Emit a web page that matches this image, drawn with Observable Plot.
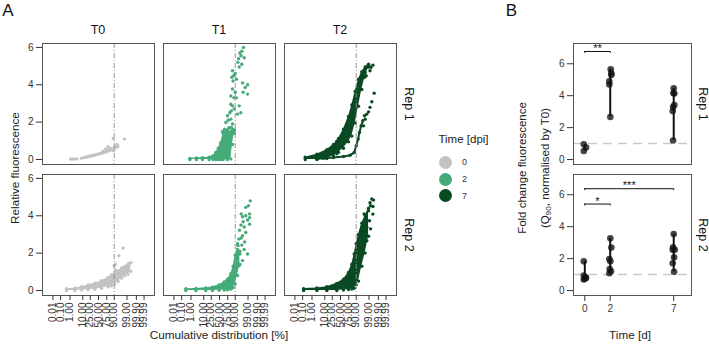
<!DOCTYPE html>
<html><head><meta charset="utf-8">
<script src="https://cdn.jsdelivr.net/npm/d3@7"></script>
<script src="https://cdn.jsdelivr.net/npm/@observablehq/plot@0.6"></script>
<style>
body{margin:0;background:#fff;}
#root{position:relative;width:709px;height:345px;font-family:"Liberation Sans",Arial,Helvetica,sans-serif;color:#222;overflow:hidden;background:#fff}
.lbl{position:absolute;white-space:nowrap;line-height:1}
.lbl sub{font-size:70%;vertical-align:-0.25em;line-height:0}
</style></head><body><div id="root"></div>
<script>
// ---------- DATA ----------
const columns = ["T0", "T1", "T2"];
const reps = ["Rep 1", "Rep 2"];
const legendTimes = ["0", "2", "7"];
const pctTicks = [0.01, 0.1, 1, 10, 25, 50, 75, 90, 99, 99.9, 99.99];
const pctLabels = ["0.01","0.10","1.00","10.00","25.00","50.00","75.00","90.00","99.00","99.90","99.99"];
const refPct = [90];
const yTicksA = [0, 2, 4, 6];

// [percentile, relative fluorescence]
const t0Rep1Dots = [[1.1,0.02],[1.6,0.03],[2.2,0.02],[3.6,0.03],[7.9,0.07],[11.5,0.1],[14,0.12],[16.4,0.13],[19,0.15],[22.4,0.17],[26,0.19],[29.5,0.2],[33,0.22],[37,0.23],[41,0.25],[45.6,0.27],[50,0.3],[54.4,0.3],[58,0.33],[61.8,0.34],[64,0.44],[66,0.37],[68.8,0.38],[72,0.55],[74.3,0.42],[77,0.45],[78,0.68],[79.4,0.47],[82,0.6],[83.6,0.5],[85,0.55],[87.3,0.56],[88.5,1.12],[89,0.48],[90.4,0.6],[91,0.7],[92.9,0.66],[93.6,0.8],[94.3,0.7],[98.3,1.09]];

// [percentile, low, high] dense band
const t1Rep1Band = [[0.78,0,0.06],[3,0,0.08],[8.2,0,0.1],[20,0,0.12],[30,0,0.2],[38,0,0.37],[46,0,0.6],[54,0,0.9],[62,0,1.4],[74,0,1.5],[82.3,0.03,1.5],[85.5,0.8,1.55],[88.5,1.4,1.55]];
const t1Rep1Dots = [[60,1.5],[66,1.62],[70,1.5],[74,1.58],[78,1.68],[83,1.72],[86,1.62],[88,1.55],[69.8,1.98],[74.3,2.34],[78.5,1.7],[82.3,2.16],[82.3,2.96],[82.3,3.4],[84.3,4.4],[85.5,1.9],[85.5,2.87],[85.5,3.77],[85.5,4.75],[87.9,4.5],[88.5,1.6],[88.5,2.7],[90,3.6],[90,4.6],[91.7,3.3],[91.7,4.3],[92.9,2.43],[93.3,5.2],[94.6,2.87],[94.6,4.95],[95.2,5.7],[95.9,2.5],[96.6,5.1],[96.6,5.8],[97.0,4.1],[97.3,3.6],[97.5,6.0],[97.8,5.45],[98.2,3.85],[98.9,3.5],[98.9,4.0],[86.5,4.2],[88,3.3],[80,2.5],[76,2.1],[83,2.6],[94,5.4],[96,5.55]];

const t2Rep1Band = [[0.2,0,0.12],[2.7,0,0.28],[13.2,0.05,0.52],[28.4,0.2,0.8],[38.2,0.3,0.98],[43.6,0.38,1.12],[59.7,0.6,1.62],[74.3,0.95,2.3],[82.3,1.25,2.92],[88.5,1.95,3.65],[92.9,2.85,4.3],[95.9,3.75,4.7],[97.8,4.45,4.95],[98.9,4.95,5.1]];
const t2Rep1Branch = [[2.7,0.03],[8.2,0.06],[28.4,0.1],[59.7,0.16],[78.5,0.23],[86.8,0.37],[90,0.73],[92.5,1.09],[93.9,1.45],[95.4,1.8],[96.6,2.07]];
const t2Rep1Dots = [[97.5,2.34],[97.0,1.8],[97.8,2.16],[98.4,2.43],[98.9,2.55],[99.2,2.79],[99.47,3.09],[99.7,3.55],[97.3,4.39],[97.8,4.66],[98.4,4.93],[98.9,5.05],[99.2,4.75],[99.35,4.93],[99.59,5.05],[98.2,4.48]];

const t0Rep2Band = [[0.45,0,0.09],[2.7,0,0.12],[8.2,0.02,0.2],[20,0.04,0.29],[38.2,0.07,0.39],[59.7,0.12,0.52],[78.5,0.2,0.7],[85.5,0.25,0.84],[90.8,0.34,0.95],[94.6,0.48,1.05],[97,0.66,1.2],[98.4,0.79,1.3],[99.2,0.87,1.41],[99.59,1.02,1.48]];
const t0Rep2Dots = [[90,1.32],[91.7,1.41],[95.2,1.86],[97.8,2.27],[99.3,1.45],[92,1.1]];

const t1Rep2Band = [[0.3,0,0.09],[2.7,0,0.11],[13.2,0,0.14],[28.4,0,0.18],[48.9,0.01,0.3],[64.8,0.02,0.45],[74.3,0.04,0.6],[82.3,0.07,0.9],[86.8,0.15,1.3],[90,0.35,1.9],[92.9,0.8,2.2],[95.2,1.4,2.1]];
const t1Rep2Dots = [[99.4,4.8],[99.1,4.54],[99.3,4.1],[98.4,4.0],[97,3.95],[98.9,3.77],[96,3.5],[97.8,3.4],[94.8,3.23],[98.4,3.1],[97,2.93],[94.3,2.75],[99.3,3.55],[92.9,2.5],[96.6,2.43],[97.8,2.2],[98.9,1.95],[95.2,1.95],[97,1.6],[94.6,1.32],[91.7,1.77],[98.4,4.45],[99.3,3.9],[97.3,3.68],[96.2,4.1],[98,2.6],[96,2.8],[93.5,2.4]];

const t2Rep2Band = [[0.13,0,0.1],[2.7,0,0.13],[13.2,0,0.2],[38.2,0,0.38],[59.7,0.02,0.6],[74.3,0.05,0.96],[82.3,0.08,1.4],[86.8,0.12,1.95],[90,0.3,2.5],[92.9,0.5,3.0],[95.9,1.3,3.6],[97.8,2.0,4.0],[98.9,2.9,4.4]];
const t2Rep2Dots = [[99.47,4.9],[99.65,4.84],[99.3,4.54],[98.9,4.27],[99.59,4.09],[98.2,3.9],[99.1,3.73],[97,3.55],[98.4,3.38],[99.3,3.3],[95.9,3.1],[97.8,2.93],[94.6,2.75],[98.4,2.66],[96.6,2.48],[92.9,2.2],[97.3,4.1],[95.9,3.38],[99.2,4.7],[99.6,4.5]];

// Panel B: [time (d), jitter, fold change]
const times = [0, 2, 7];
const yTicksB = [0, 2, 4, 6];
const rep1Fold = [[0,-0.08,0.96],[0,0.1,0.75],[0,-0.08,0.54],[2,0.04,5.65],[2,0.09,5.4],[2,0.09,5.3],[2,-0.07,4.9],[2,-0.07,4.7],[2,0.01,2.67],[7,0,4.46],[7,-0.03,4.17],[7,0.05,4.13],[7,0.05,3.42],[7,-0.05,3.29],[7,-0.08,3.04],[7,-0.05,1.19]];
const rep2Fold = [[0,-0.08,1.83],[0,-0.08,0.94],[0,0.05,0.83],[0,0,0.75],[0,-0.08,0.69],[0,0.1,0.79],[2,0.01,3.27],[2,0.09,2.69],[2,-0.07,1.98],[2,0.01,1.83],[2,-0.04,1.35],[2,0.06,1.21],[2,-0.07,1.08],[7,0,3.54],[7,-0.05,2.71],[7,0.08,2.56],[7,-0.08,2.56],[7,0.03,2.08],[7,-0.08,1.71],[7,0.03,1.17]];
const sigRep1 = [{from:0,to:2,y:6.77,label:"**"}];
const sigRep2 = [{from:0,to:2,y:5.42,label:"*"},{from:0,to:7,y:6.38,label:"***"}];
const baseline = [1];

const colors = ["#c3c3c3", "#45ab78", "#0a4a22"];

// ---------- HELPERS ----------
function qnorm(p){
  const a=[-3.969683028665376e+01,2.209460984245205e+02,-2.759285104469687e+02,1.383577518672690e+02,-3.066479806614716e+01,2.506628277459239e+00];
  const b=[-5.447609879822406e+01,1.615858368580409e+02,-1.556989798598866e+02,6.680131188771972e+01,-1.328068155288572e+01];
  const c=[-7.784894002430293e-03,-3.223964580411365e-01,-2.400758277161838e+00,-2.549732539343734e+00,4.374664141464968e+00,2.938163982698783e+00];
  const d=[7.784695709041462e-03,3.224671290700398e-01,2.445134137142996e+00,3.754408661907416e+00];
  const pl=0.02425, ph=1-pl; let q,r;
  if(p<pl){q=Math.sqrt(-2*Math.log(p));return (((((c[0]*q+c[1])*q+c[2])*q+c[3])*q+c[4])*q+c[5])/((((d[0]*q+d[1])*q+d[2])*q+d[3])*q+1);}
  if(p<=ph){q=p-0.5;r=q*q;return (((((a[0]*r+a[1])*r+a[2])*r+a[3])*r+a[4])*r+a[5])*q/(((((b[0]*r+b[1])*r+b[2])*r+b[3])*r+b[4])*r+1);}
  q=Math.sqrt(-2*Math.log(1-p));return -(((((c[0]*q+c[1])*q+c[2])*q+c[3])*q+c[4])*q+c[5])/((((d[0]*q+d[1])*q+d[2])*q+d[3])*q+1);
}
const zp = p => qnorm(p/100);
const zTicks = pctTicks.map(zp);

const root = document.getElementById("root");
const plotStyle = "font-family:'Liberation Sans',Arial,sans-serif;font-size:10px;color:#333;background:none;overflow:visible";
function place(el, left, top){ el.style.position="absolute"; el.style.left=left+"px"; el.style.top=top+"px"; root.appendChild(el); }
function label(html, cx, cy, size, rot, color){
  const d=document.createElement("div"); d.className="lbl"; d.innerHTML=html;
  d.style.left=cx+"px"; d.style.top=cy+"px"; d.style.fontSize=size+"px";
  if(color) d.style.color=color;
  d.style.transform="translate(-50%,-50%)"+(rot?` rotate(${rot}deg)`:"");
  root.appendChild(d); return d;
}

// ---------- PANEL A ----------
const X0=[42,163,284], Y0=[43,174], PW=112, PH=121;
const panels = [
  {col:0,row:0,dots:t0Rep1Dots},
  {col:1,row:0,band:t1Rep1Band,dots:t1Rep1Dots},
  {col:2,row:0,band:t2Rep1Band,line:t2Rep1Branch,dots:t2Rep1Dots},
  {col:0,row:1,band:t0Rep2Band,dots:t0Rep2Dots},
  {col:1,row:1,band:t1Rep2Band,dots:t1Rep2Dots},
  {col:2,row:1,band:t2Rep2Band,dots:t2Rep2Dots}
];
const R = 1.7;
for(const p of panels){
  const ml = p.col===0?42:1, mb = p.row===1?42:1;
  const col = colors[p.col];
  const marks=[];
  if(p.band){
    marks.push(Plot.areaY(p.band,{x:d=>zp(d[0]),y1:d=>d[1],y2:d=>d[2],fill:col}));
    marks.push(Plot.dot(p.band,{x:d=>zp(d[0]),y:d=>d[2],r:R,fill:col}));
    marks.push(Plot.dot(p.band,{x:d=>zp(d[0]),y:d=>d[1],r:R,fill:col}));
  }
  if(p.line){
    marks.push(Plot.line(p.line,{x:d=>zp(d[0]),y:d=>d[1],stroke:col,strokeWidth:2}));
    marks.push(Plot.dot(p.line,{x:d=>zp(d[0]),y:d=>d[1],r:R,fill:col}));
  }
  marks.push(Plot.dot(p.dots,{x:d=>zp(d[0]),y:d=>d[1],r:R,fill:col}));
  marks.push(Plot.ruleX(refPct,{x:d=>zp(d),stroke:"#8a8a8a",strokeWidth:0.9,strokeDasharray:"5,2,1,2"}));
  marks.push(Plot.frame({stroke:"#555"}));
  if(p.col===0) marks.push(Plot.axisY(yTicksA,{tickSize:6,tickPadding:3,label:null}));
  if(p.row===1) marks.push(Plot.axisX(zTicks,{tickSize:5,tickPadding:2,tickRotate:-90,label:null,tickFormat:d=>pctLabels[zTicks.indexOf(d)]}));
  const svg = Plot.plot({
    width:ml+PW+1, height:1+PH+mb, marginLeft:ml, marginRight:1, marginTop:1, marginBottom:mb,
    x:{domain:[-4.57,4.57],axis:null}, y:{domain:[-0.27,6.21],axis:null},
    style:plotStyle, marks
  });
  place(svg, X0[p.col]-ml, Y0[p.row]-1);
}

// ---------- PANEL B ----------
const BX=573, BW=118;
function panelB(row, pts, sig){
  const ml=22, mb=row===1?26:1;
  const groups = d3.rollups(pts, v=>d3.extent(v,d=>d[2]), d=>d[0]).map(([t,[lo,hi]])=>({t,lo,hi}));
  const marks=[
    Plot.ruleY(baseline,{stroke:"#c9c9c9",strokeWidth:1.5,strokeDasharray:"9,6"}),
    Plot.ruleX(groups,{x:"t",y1:"lo",y2:"hi",stroke:"#111",strokeWidth:2}),
    Plot.dot(pts,{x:d=>d[0]+d[1],y:d=>d[2],r:3.3,fill:"#111",fillOpacity:0.78}),
    Plot.ruleY(sig,{x1:"from",x2:"to",y:"y",stroke:"#111",strokeWidth:1}),
    Plot.ruleX(sig,{x:"from",y1:"y",y2:d=>d.y-0.12,stroke:"#111"}),
    Plot.ruleX(sig,{x:"to",y1:"y",y2:d=>d.y-0.12,stroke:"#111"}),
    Plot.text(sig,{x:d=>(d.from+d.to)/2,y:"y",text:"label",dy:-3,fontSize:11,fill:"#111"}),
    Plot.frame({stroke:"#555"}),
    Plot.axisY(yTicksB,{tickSize:6,tickPadding:3,label:null})
  ];
  if(row===1) marks.push(Plot.axisX(times,{tickSize:6,tickPadding:3,label:null}));
  const svg = Plot.plot({
    width:ml+BW+1, height:1+PH+mb, marginLeft:ml, marginRight:1, marginTop:1, marginBottom:mb,
    x:{domain:[-0.89,8.4],axis:null}, y:{domain:[-0.31,7.27],axis:null},
    style:plotStyle, marks
  });
  place(svg, BX-ml, Y0[row]-1);
}
panelB(0, rep1Fold, sigRep1);
panelB(1, rep2Fold, sigRep2);

// ---------- TEXT ----------
label("A", 8, 10, 17, 0, "#111");
label("B", 511.5, 10, 17, 0, "#111");
columns.forEach((c,i)=>label(c, X0[i]+PW/2, 30, 12.5, 0, "#111"));
reps.forEach((r,i)=>label(r, 409, Y0[i]+PH/2, 12.5, 90, "#111"));
reps.forEach((r,i)=>label(r, 702.5, Y0[i]+PH/2, 12.5, 90, "#111"));
label("Relative fluorescence", 14.5, 168, 11.7, -90, "#222");
label("Cumulative distribution [%]", 219, 335, 11.7, 0, "#222");
label("Time [d]", 630, 335, 11.7, 0, "#222");
label("Fold change fluorescence", 523, 168, 11.5, -90, "#222");
label("(Q<sub>90</sub>, normalised by T0)", 546, 168, 11.5, -90, "#222");

// legend
label("Time [dpi]", 463.5, 140, 11.5, 0, "#222");
legendTimes.forEach((t,i)=>{
  const y = 162.3 + i*16.7;
  const c=document.createElement("div");
  c.style.cssText=`position:absolute;left:${445.7-6.5}px;top:${y-6.5}px;width:13px;height:13px;border-radius:50%;background:${colors[i]}`;
  root.appendChild(c);
  label(t, 464.5, y, 9, 0, "#333");
});
</script></body></html>
